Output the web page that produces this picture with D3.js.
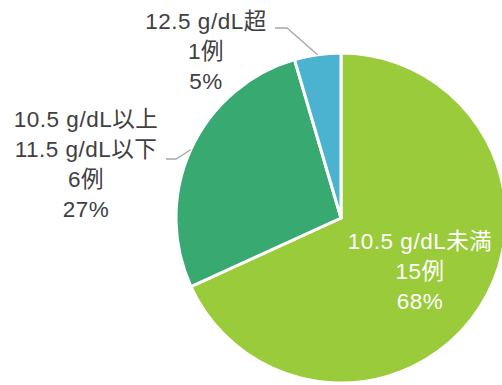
<!DOCTYPE html>
<html>
<head>
<meta charset="utf-8">
<script src="https://cdn.jsdelivr.net/npm/d3@7"></script>
<style>
  html, body { margin: 0; padding: 0; background: #fff; }
  svg { display: block; }
  text { font-family: "Liberation Sans", Arial, "Noto Sans CJK JP", sans-serif; }
</style>
</head>
<body>
<svg id="chart" width="502" height="385"></svg>
<script>
// Hemoglobin category counts
const categories = ["10.5 g/dL未満", "10.5 g/dL以上\n11.5 g/dL以下", "12.5 g/dL超"];
const counts = [15, 6, 1];
const percents = ["68%", "27%", "5%"];
const colors = ["#9acb3a", "#38a971", "#4bb2d0"];

const svg = d3.select("#chart");
const cx = 341, cy = 218, radius = 165;
const g = svg.append("g").attr("transform", `translate(${cx},${cy})`);

const pie = d3.pie().sort(null).value(d => d.count);
const data = categories.map((c, i) => ({ label: c, count: counts[i], pct: percents[i], color: colors[i] }));
const arcs = pie(data);
const arc = d3.arc().innerRadius(0).outerRadius(radius);

g.selectAll("path.slice")
  .data(arcs)
  .join("path")
  .attr("class", "slice")
  .attr("d", arc)
  .attr("fill", d => d.data.color)
  .attr("stroke", "#fff")
  .attr("stroke-width", 3)
  .attr("stroke-linejoin", "miter");

const fontSize = 22.5, lineH = 30;

function labelLines(d) {
  return d.data.label.split("\n").concat([d.data.count + "例", d.data.pct]);
}

// point on the rim at the middle of a slice
function rim(d, r) {
  const a = (d.startAngle + d.endAngle) / 2;
  return [Math.sin(a) * r, -Math.cos(a) * r];
}

// Label placement: inside for the large slice, outside with leader lines for the others
const placements = [
  { inside: true, x: 420 - cx, y: 249 - cy },
  { inside: false, x: 86 - cx, y: 127 - cy, elbow: [176 - cx, 159 - cy], end: [166 - cx, 159 - cy] },
  { inside: false, x: 206 - cx, y: 29 - cy, elbow: [287 - cx, 28 - cy], end: [275 - cx, 28 - cy] }
];

arcs.forEach((d, i) => {
  const p = placements[i];
  if (!p.inside) {
    const start = rim(d, radius);
    g.append("polyline")
      .attr("points", [start, p.elbow, p.end].map(q => q.join(",")).join(" "))
      .attr("fill", "none")
      .attr("stroke", "#a6a6a6")
      .attr("stroke-width", 1.3);
  }
  const t = g.append("text")
    .attr("text-anchor", "middle")
    .attr("font-size", fontSize)
    .attr("letter-spacing", 0.5)
    .attr("fill", p.inside ? "#ffffff" : "#404040");
  labelLines(d).forEach((line, k) => {
    t.append("tspan").attr("x", p.x).attr("y", p.y + k * lineH).text(line);
  });
});
</script>
</body>
</html>
